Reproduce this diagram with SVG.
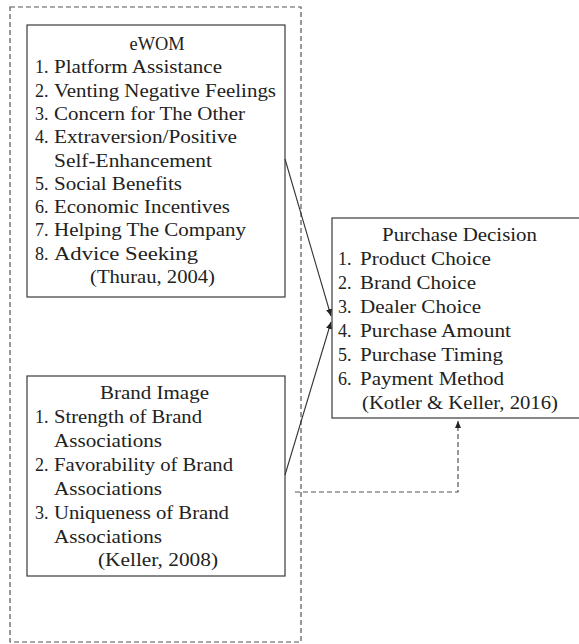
<svg xmlns="http://www.w3.org/2000/svg" width="579" height="644" viewBox="0 0 579 644">
<defs>
<style>
.box{fill:#fff;stroke:#3a3a3a;stroke-width:1.2}
.dash{fill:none;stroke:#555;stroke-width:1.2;stroke-dasharray:5 3}
.t{font-family:"Liberation Serif","Times New Roman",serif;font-size:18px;fill:#222}
.c{text-anchor:middle}
.ln{fill:none;stroke:#333;stroke-width:1.1}
</style>
<marker id="ah" markerWidth="8" markerHeight="8" refX="7" refY="4" orient="auto" markerUnits="userSpaceOnUse">
<path d="M0,1 L7,4 L0,7 Z" fill="#222"/>
</marker>
</defs>
<rect width="579" height="644" fill="#fff"/>
<g id="frame">
<rect class="dash" x="10" y="7" width="291" height="635"/>
</g>
<g id="ewom">
<rect class="box" x="27" y="25" width="258" height="272"/>
<text class="t c" x="157" y="50" textLength="55" lengthAdjust="spacingAndGlyphs">eWOM</text>
<text class="t" x="35" y="73.3">1. <tspan x="54" textLength="168" lengthAdjust="spacingAndGlyphs">Platform Assistance</tspan></text>
<text class="t" x="35" y="96.6">2. <tspan x="54" textLength="222" lengthAdjust="spacingAndGlyphs">Venting Negative Feelings</tspan></text>
<text class="t" x="35" y="119.9">3. <tspan x="54" textLength="191" lengthAdjust="spacingAndGlyphs">Concern for The Other</tspan></text>
<text class="t" x="35" y="143.2">4. <tspan x="54" textLength="183" lengthAdjust="spacingAndGlyphs">Extraversion/Positive</tspan></text>
<text class="t" x="54" y="166.5" textLength="158" lengthAdjust="spacingAndGlyphs">Self-Enhancement</text>
<text class="t" x="35" y="189.8">5. <tspan x="54" textLength="128" lengthAdjust="spacingAndGlyphs">Social Benefits</tspan></text>
<text class="t" x="35" y="213.1">6. <tspan x="54" textLength="176" lengthAdjust="spacingAndGlyphs">Economic Incentives</tspan></text>
<text class="t" x="35" y="236.4">7. <tspan x="54" textLength="192" lengthAdjust="spacingAndGlyphs">Helping The Company</tspan></text>
<text class="t" x="35" y="259.7">8. <tspan x="54" textLength="144" lengthAdjust="spacingAndGlyphs">Advice Seeking</tspan></text>
<text class="t" x="90" y="283" textLength="125" lengthAdjust="spacingAndGlyphs">(Thurau, 2004)</text>
</g>
<g id="brand-image">
<rect class="box" x="27" y="376" width="258" height="200"/>
<text class="t" x="100" y="399" textLength="109" lengthAdjust="spacingAndGlyphs">Brand Image</text>
<text class="t" x="35" y="423">1. <tspan x="54" textLength="148" lengthAdjust="spacingAndGlyphs">Strength of Brand</tspan></text>
<text class="t" x="54" y="447" textLength="108" lengthAdjust="spacingAndGlyphs">Associations</text>
<text class="t" x="35" y="471">2. <tspan x="54" textLength="179" lengthAdjust="spacingAndGlyphs">Favorability of Brand</tspan></text>
<text class="t" x="54" y="495" textLength="108" lengthAdjust="spacingAndGlyphs">Associations</text>
<text class="t" x="35" y="519">3. <tspan x="54" textLength="175" lengthAdjust="spacingAndGlyphs">Uniqueness of Brand</tspan></text>
<text class="t" x="54" y="543" textLength="108" lengthAdjust="spacingAndGlyphs">Associations</text>
<text class="t" x="98" y="566" textLength="120" lengthAdjust="spacingAndGlyphs">(Keller, 2008)</text>
</g>
<g id="purchase-decision">
<rect class="box" x="332" y="218" width="250" height="200"/>
<text class="t" x="382" y="241" textLength="155" lengthAdjust="spacingAndGlyphs">Purchase Decision</text>
<text class="t" x="338" y="265">1. <tspan x="360" textLength="131" lengthAdjust="spacingAndGlyphs">Product Choice</tspan></text>
<text class="t" x="338" y="289">2. <tspan x="360" textLength="116" lengthAdjust="spacingAndGlyphs">Brand Choice</tspan></text>
<text class="t" x="338" y="313">3. <tspan x="360" textLength="121" lengthAdjust="spacingAndGlyphs">Dealer Choice</tspan></text>
<text class="t" x="338" y="337">4. <tspan x="360" textLength="151" lengthAdjust="spacingAndGlyphs">Purchase Amount</tspan></text>
<text class="t" x="338" y="361">5. <tspan x="360" textLength="143" lengthAdjust="spacingAndGlyphs">Purchase Timing</tspan></text>
<text class="t" x="338" y="385">6. <tspan x="360" textLength="144" lengthAdjust="spacingAndGlyphs">Payment Method</tspan></text>
<text class="t" x="362" y="409" textLength="196" lengthAdjust="spacingAndGlyphs">(Kotler &amp; Keller, 2016)</text>
</g>
<g id="connectors">
<line class="ln" x1="285" y1="159" x2="331" y2="316" marker-end="url(#ah)"/>
<line class="ln" x1="285" y1="475" x2="331" y2="322" marker-end="url(#ah)"/>
<polyline class="dash" points="295,492 458,492 458,421" marker-end="url(#ah)"/>
</g>
</svg>
